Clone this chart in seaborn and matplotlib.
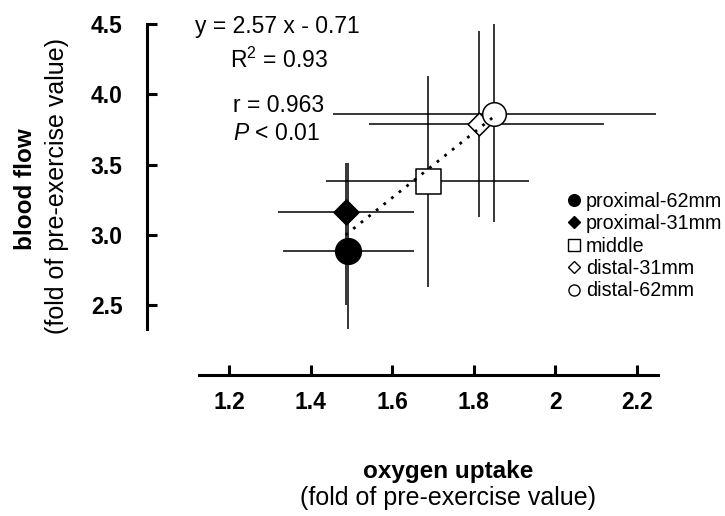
import numpy as np
import pandas as pd
import matplotlib
matplotlib.use("Agg")
import matplotlib.pyplot as plt
from matplotlib.lines import Line2D
import seaborn as sns

# Measurement sites along the muscle
sites = ["proximal-62mm", "proximal-31mm", "middle", "distal-31mm", "distal-62mm"]

# Mean values (fold of pre-exercise value)
oxygen_uptake = [1.493, 1.486, 1.687, 1.812, 1.850]
blood_flow = [2.885, 3.161, 3.384, 3.793, 3.858]

# Error bars (lower / upper extent)
uptake_err_low = [0.160, 0.166, 0.248, 0.268, 0.396]
uptake_err_high = [0.160, 0.168, 0.248, 0.308, 0.396]
flow_err_low = [0.662, 0.660, 0.753, 0.668, 0.764]
flow_err_high = [0.625, 0.349, 0.750, 0.661, 0.728]

x_ticks = [1.2, 1.4, 1.6, 1.8, 2.0, 2.2]
x_tick_labels = ["1.2", "1.4", "1.6", "1.8", "2", "2.2"]
y_ticks = [2.5, 3.0, 3.5, 4.0, 4.5]
y_tick_labels = ["2.5", "3.0", "3.5", "4.0", "4.5"]

fit_equation = "y = 2.57 x - 0.71"
fit_r2 = "R$^2$ = 0.93"
fit_r = "r = 0.963"
fit_p = r"$\mathit{P}$ < 0.01"

# Marker styles per site
marker_shapes = ["o", "D", "s", "D", "o"]
marker_faces = ["black", "black", "white", "white", "white"]
marker_areas = [342, 162, 324, 134, 289]
legend_sizes = [8.4, 6.0, 8.0, 6.0, 8.0]

sns.set_style("white")
plt.rcParams.update({
    "font.family": ["Liberation Sans", "DejaVu Sans"],
    "text.color": "black",
    "axes.labelcolor": "black",
    "xtick.color": "black",
    "ytick.color": "black",
    "mathtext.fontset": "custom",
    "mathtext.rm": "Liberation Sans",
    "mathtext.it": "Liberation Sans:italic",
    "mathtext.bf": "Liberation Sans:bold",
})

W, H = 725, 516


def fx(px):
    return px / W


def fy(py):
    return 1 - py / H


df = pd.DataFrame({
    "site": sites,
    "uptake": oxygen_uptake,
    "flow": blood_flow,
})

fig = plt.figure(figsize=(W / 100, H / 100), dpi=100)
ax = fig.add_axes([fx(199.2), fy(328.5), (658.5 - 199.2) / W, (328.5 - 24.3) / H])

ax.errorbar(df["uptake"], df["flow"],
            xerr=[uptake_err_low, uptake_err_high],
            yerr=[flow_err_low, flow_err_high],
            fmt="none", ecolor="black", elinewidth=1.1, capsize=0, zorder=2)

for i, row in df.iterrows():
    sns.scatterplot(x=[row["uptake"]], y=[row["flow"]], ax=ax,
                    marker=marker_shapes[i], s=marker_areas[i],
                    color=marker_faces[i], edgecolor="black", linewidth=1.1,
                    zorder=3 + i, legend=False)

sns.regplot(data=df, x="uptake", y="flow", ax=ax, scatter=False, ci=None,
            truncate=True, color="black",
            line_kws=dict(ls=(0, (1, 2.5)), lw=2.0, zorder=10))

ax.set_xlim(1.127, 2.253)
ax.set_ylim(2.333, 4.5)
ax.set_xlabel("")
ax.set_ylabel("")

for side in ["top", "right"]:
    ax.spines[side].set_visible(False)
ax.spines["left"].set_position(("outward", 37.8))
ax.spines["bottom"].set_position(("outward", 33.5))
for side in ["left", "bottom"]:
    ax.spines[side].set_linewidth(2.2)
    ax.spines[side].set_color("black")

ax.tick_params(axis="both", which="major", bottom=True, left=True,
               direction="in", length=7.2, width=2.2, color="black",
               labelcolor="black", labelsize=16.5)
ax.tick_params(axis="x", pad=11.3)
ax.tick_params(axis="y", pad=17.3)

ax.set_xticks(x_ticks)
ax.set_xticklabels(x_tick_labels)
ax.set_yticks(y_ticks)
ax.set_yticklabels(y_tick_labels)
for lbl in ax.get_xticklabels() + ax.get_yticklabels():
    lbl.set_fontweight("bold")
    lbl.set_fontsize(16.5)
ax.patch.set_alpha(0)

# Regression statistics
fig.text(fx(195), fy(33.3), fit_equation, fontsize=16.5, ha="left", va="baseline")
fig.text(fx(230), fy(68.3), fit_r2, fontsize=16.5, ha="left", va="baseline")
fig.text(fx(232.7), fy(111.7), fit_r, fontsize=16.5, ha="left", va="baseline")
fig.text(fx(233), fy(140), fit_p, fontsize=16.5, ha="left", va="baseline")

# Axis titles
fig.text(fx(448.5), fy(478), "oxygen uptake", fontsize=17.5, fontweight="bold",
         ha="center", va="baseline")
fig.text(fx(448), fy(505.5), "(fold of pre-exercise value)", fontsize=18,
         ha="center", va="baseline")
fig.text(fx(31.7), fy(189), "blood flow", fontsize=17.5, fontweight="bold",
         rotation=90, rotation_mode="anchor", ha="center", va="baseline")
fig.text(fx(64), fy(186), "(fold of pre-exercise value)", fontsize=18,
         rotation=90, rotation_mode="anchor", ha="center", va="baseline")

handles = [Line2D([], [], ls="none", marker=m, markersize=ms,
                  markerfacecolor=fc, markeredgecolor="black", markeredgewidth=1.0)
           for m, fc, ms in zip(marker_shapes, marker_faces, legend_sizes)]
fig.legend(handles, sites, loc="upper left", bbox_to_anchor=(fx(568), fy(192)),
           frameon=False, fontsize=14.2, handlelength=0.6, handletextpad=0.32,
           labelspacing=0.17, borderpad=0, borderaxespad=0, labelcolor="black")

fig.savefig("out.png", dpi=100)
